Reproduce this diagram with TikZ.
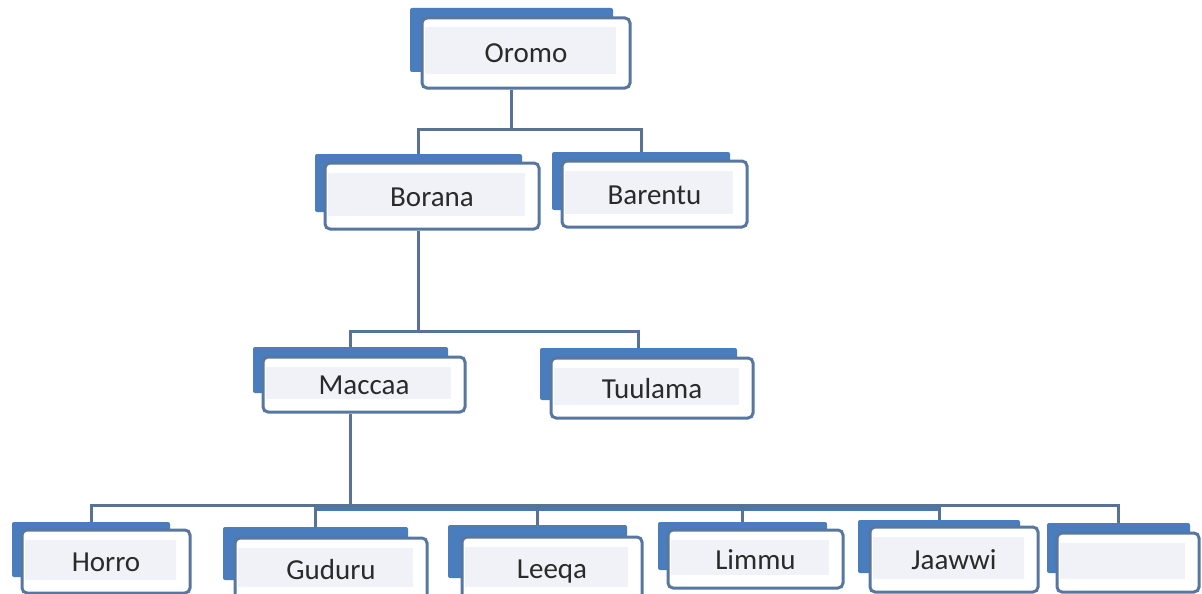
\documentclass[tikz,border=0pt]{standalone}
\usepackage{fontspec}
\setmainfont{Carlito}
\usetikzlibrary{fit,calc}

\definecolor{backblue}{HTML}{4A7DBE}
\definecolor{edgeblue}{HTML}{5777A1}
\definecolor{panelgrey}{HTML}{F0F2F7}
\definecolor{textgrey}{HTML}{2A2A2A}
\definecolor{linkblue}{HTML}{587296}
\definecolor{trunkblue}{HTML}{4B77B0}

\tikzset{
  backbox/.style={fill=backblue, draw=none, rounded corners=2pt, inner sep=0pt},
  frontbox/.style={fill=white, draw=edgeblue, line width=3pt, rounded corners=5pt, inner sep=0pt},
  lbl/.style={font=\fontsize{29}{32}\selectfont, text=textgrey, inner sep=0pt, anchor=base},
  conn/.style={draw=linkblue, line width=3pt},
  trunk/.style={draw=trunkblue, line width=7pt},
}

% one unit of the chart: offset blue card behind, white card in front
% #1 name, #2/#3 corners of the back card, #4/#5 corners of the front card, #6 label
\newcommand\orgunit[6]{%
  \node[backbox, fit={#2 #3}] (#1b) {};
  \node[frontbox, fit={#4 #5}] (#1) {};
  \fill[panelgrey] ($(#1.north west)+(4,11)$) rectangle ($(#1.south east)+(-16,-15)$);
  \node[lbl] (#1t) at ($(#1.center)+(0,10)$) {#6};
}

\begin{document}
\begin{tikzpicture}[x=1pt, y=-1pt]
  \useasboundingbox (0,0) rectangle (1202,594);
  \fill[white] (0,0) rectangle (1202,594);
  \begin{scope}
    \clip (0,0) rectangle (1202,594);

    % top level
    \orgunit{Oromo}{(410,8)}{(613,72)}{(422,18)}{(630,88)}{Oromo}

    % second level
    \orgunit{Borana}{(315,154)}{(522,212)}{(325,163)}{(539,229)}{Borana}
    \orgunit{Barentu}{(552,152)}{(730,210)}{(562,161)}{(747,227)}{Barentu}

    % third level
    \orgunit{Maccaa}{(253,347)}{(448,393)}{(263,357)}{(465,412)}{Maccaa}
    \orgunit{Tuulama}{(540,348)}{(737,400)}{(551,358)}{(753,418)}{Tuulama}

    % bottom level
    \orgunit{Horro}{(12,522)}{(170,577)}{(22,530)}{(190,593)}{Horro}
    \orgunit{Guduru}{(223,527)}{(408,580)}{(235,538)}{(427,600)}{Guduru}
    \orgunit{Leeqa}{(448,525)}{(627,578)}{(462,537)}{(642,600)}{Leeqa}
    \orgunit{Limmu}{(658,522)}{(827,570)}{(668,530)}{(843,588)}{Limmu}
    \orgunit{Jaawwi}{(858,520)}{(1020,573)}{(870,527)}{(1038,592)}{Jaawwi}
    \orgunit{Last}{(1047,523)}{(1190,573)}{(1057,533)}{(1199,592)}{}

    % connectors: Oromo -> Borana, Barentu
    \draw[conn] (Oromob.south |- Oromo.south) -- (Oromob.south |- 0,129);
    \draw[conn] (Boranab.north) -- (Boranab.north |- 0,129) -| (Barentub.north);

    % Borana -> Maccaa, Tuulama
    \draw[conn] (Boranab.south |- Borana.south) -- (Boranab.south |- 0,331);
    \draw[conn] (Maccaab.north) -- (Maccaab.north |- 0,331) -| (Tuulamab.north);

    % Maccaa -> bottom row
    \draw[conn] (Maccaab.south |- Maccaa.south) -- (Maccaab.south |- 0,505);
    \draw[trunk] (Gudurub.north |- 0,507) -- (Jaawwib.north |- 0,507);
    \draw[conn] (Horrob.north) -- (Horrob.north |- 0,505) -| (Lastb.north);
    \foreach \k in {Guduru,Leeqa,Limmu,Jaawwi}
      \draw[conn] (\k b.north) -- (\k b.north |- 0,505);
  \end{scope}
\end{tikzpicture}
\end{document}
